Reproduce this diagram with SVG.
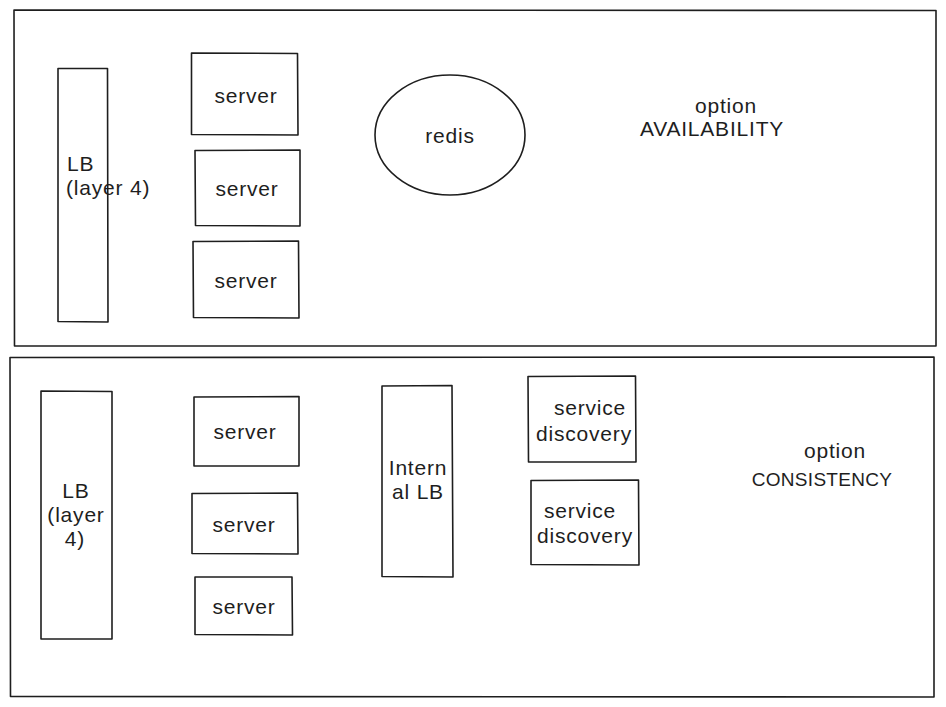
<svg xmlns="http://www.w3.org/2000/svg" width="946" height="707" viewBox="0 0 946 707">
<style>
.b{fill:none;stroke:#1e1e1e;stroke-width:1.6;stroke-linejoin:round}
.t{font-family:"Liberation Sans",Arial,sans-serif;font-size:21px;letter-spacing:0.8px;fill:#1e1e1e;text-anchor:middle;dominant-baseline:central}
.l{text-anchor:start}
.s{font-size:19px;letter-spacing:0.3px}
</style>
<rect width="946" height="707" fill="#ffffff"/>
<g id="frame-availability"><path class="b" d="M14 10 L936 10.5 L936 346 L14.5 346 Z"/></g>
<g id="frame-consistency"><path class="b" d="M10 357.5 L934 357 L934 697 L10.5 696.5 Z"/></g>

<g id="lb-top"><path class="b" d="M58 68.5 L107.5 68.5 L108 322 L58 321.5 Z"/>
<text class="t l" x="67" y="163">LB</text><text class="t l" x="66" y="187">(layer 4)</text></g>
<g id="server-top-1"><path class="b" d="M191.5 53 L297.5 53.5 L298 135 L191.5 134.5 Z"/><text class="t" x="246" y="95">server</text></g>
<g id="server-top-2"><path class="b" d="M195 150.5 L300 150 L300 226 L195.5 225.5 Z"/><text class="t" x="247" y="188">server</text></g>
<g id="server-top-3"><path class="b" d="M193 241.5 L298.5 241 L299 318 L193.5 317.5 Z"/><text class="t" x="246" y="280">server</text></g>
<g id="redis"><ellipse class="b" cx="450" cy="135" rx="75" ry="60"/><text class="t" x="450" y="135">redis</text></g>
<g id="label-availability"><text class="t" x="726" y="105">option</text><text class="t" x="712" y="128">AVAILABILITY</text></g>

<g id="lb-bottom"><path class="b" d="M41 391 L112 391.5 L112 639 L41 639 Z"/>
<text class="t" x="76" y="490">LB</text><text class="t" x="76" y="514">(layer</text><text class="t" x="75" y="538">4)</text></g>
<g id="server-bottom-1"><path class="b" d="M194 397 L299 396.5 L299 466 L194 466 Z"/><text class="t" x="245" y="431">server</text></g>
<g id="server-bottom-2"><path class="b" d="M192 493.5 L297.5 493 L298 554 L192 553.5 Z"/><text class="t" x="244" y="524">server</text></g>
<g id="server-bottom-3"><path class="b" d="M195 577 L292 577 L292.5 635 L195 634.5 Z"/><text class="t" x="244" y="606">server</text></g>
<g id="internal-lb"><path class="b" d="M382 386 L452 385.5 L453 577 L382 576.5 Z"/>
<text class="t" x="418" y="467">Intern</text><text class="t" x="418" y="491">al LB</text></g>
<g id="service-discovery-1"><path class="b" d="M528 376.5 L635.5 376 L636 462 L528.5 462 Z"/>
<text class="t" x="590" y="407">service</text><text class="t" x="584" y="433">discovery</text></g>
<g id="service-discovery-2"><path class="b" d="M531 480.5 L638.5 480 L639 565 L531 564.5 Z"/>
<text class="t" x="580" y="510">service</text><text class="t" x="585" y="535">discovery</text></g>
<g id="label-consistency"><text class="t" x="835" y="450">option</text><text class="t s" x="822" y="479">CONSISTENCY</text></g>
<g id="connectors"></g>
</svg>
